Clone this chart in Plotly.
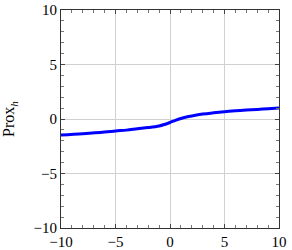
import plotly.graph_objects as go

x_vals = [-10, -8, -6, -5, -4, -3, -2, -1, -0.5, 0, 0.5, 1, 1.5, 2, 3, 4, 5, 6, 7, 8, 9, 10]
y_vals = [-1.47, -1.35, -1.2, -1.1, -1.02, -0.9, -0.79, -0.64, -0.5, -0.32, -0.12, 0.05, 0.18, 0.28, 0.45, 0.57, 0.67, 0.75, 0.82, 0.88, 0.94, 1.0]
tick_vals = [-10, -5, 0, 5, 10]

FONT = "Liberation Serif, Times New Roman, serif"

fig = go.Figure()
fig.add_trace(go.Scatter(x=x_vals, y=y_vals, mode="lines",
                         line=dict(color="#0000ff", width=3, shape="spline"),
                         showlegend=False))

axis_common = dict(
    range=[-10, 10], tickvals=tick_vals, ticks="inside", ticklen=4, tickcolor="#444",
    showline=True, linecolor="#333", linewidth=1, mirror="allticks",
    showgrid=True, gridcolor="#d0d0d0", gridwidth=1, zeroline=False,
    minor=dict(dtick=1, ticks="inside", ticklen=3, tickcolor="#777", showgrid=False),
    tickfont=dict(family=FONT, size=15, color="black"),
    automargin=False,
)

fig.update_layout(
    width=292, height=250,
    margin=dict(l=61, r=13, t=10, b=22),
    paper_bgcolor="white", plot_bgcolor="white",
    font=dict(family=FONT, color="black"),
    xaxis=dict(**axis_common),
    yaxis=dict(**axis_common,
               title=dict(text="Prox<sub><i>h</i></sub>", standoff=14,
                          font=dict(family=FONT, size=16, color="black"))),
)

fig.write_html("out.html", config={"displayModeBar": False},
               post_script="document.body.style.margin='0';document.body.style.overflow='hidden';")
